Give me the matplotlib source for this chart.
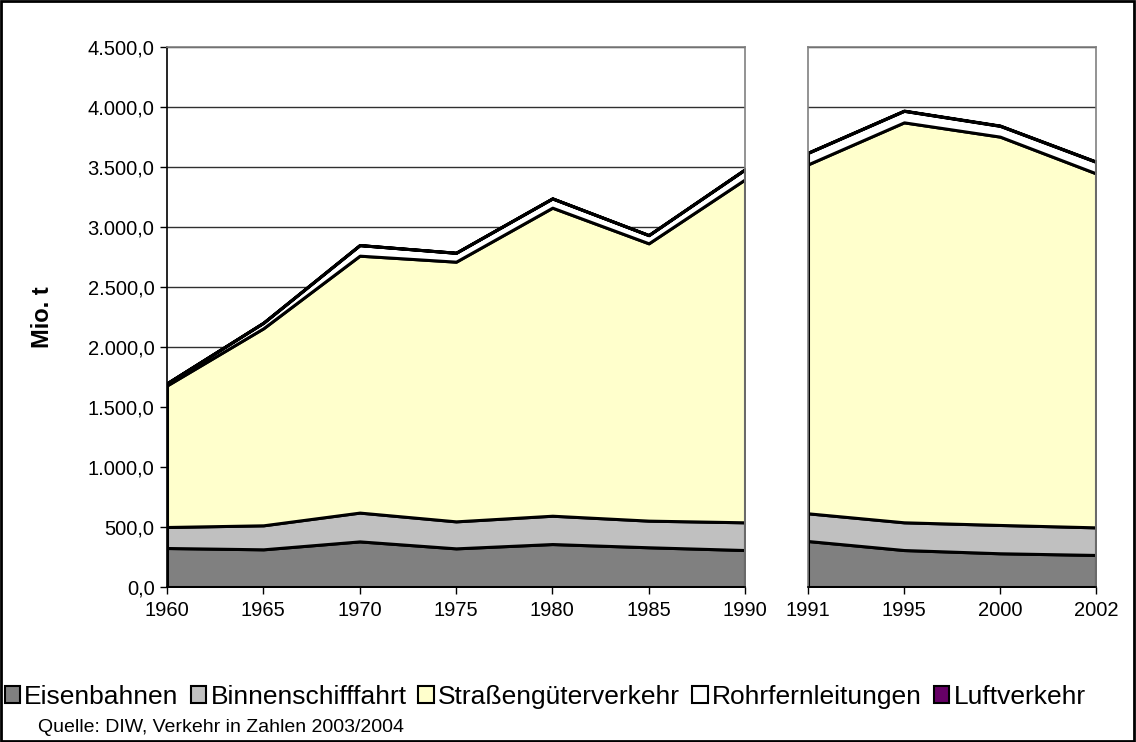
import matplotlib
matplotlib.use("Agg")
import matplotlib.pyplot as plt
from matplotlib.patches import Patch, Rectangle

plt.rcParams['font.family'] = ['Liberation Sans', 'DejaVu Sans']

years_west = [1960, 1965, 1970, 1975, 1980, 1985, 1990]
years_all = [1991, 1995, 2000, 2002]

series = ["Eisenbahnen", "Binnenschifffahrt", "Straßengüterverkehr", "Rohrfernleitungen", "Luftverkehr"]
colors = ["#808080", "#C0C0C0", "#FFFFCC", "#FFFFFF", "#660066"]

eisen_w = [325, 314, 380, 322, 358, 331, 308]
binnen_w = [175, 200, 240, 225, 236, 222, 231]
strasse_w = [1180, 1642, 2141, 2164, 2567, 2311, 2858]
rohr_w = [18, 46, 88, 74, 77, 68, 83]
luft_w = [0.1, 0.2, 0.4, 0.5, 0.7, 0.9, 1.5]

eisen_a = [383, 308, 281, 267]
binnen_a = [231, 231, 236, 230]
strasse_a = [2908, 3333, 3236, 2950]
rohr_a = [96, 96, 90, 96]
luft_a = [1.8, 2.0, 2.4, 2.3]

fig = plt.figure(figsize=(11.36, 7.42), dpi=100)
W, H = 1136, 742

def ax_rect(x0, y0, x1, y1):
    return [x0 / W, 1 - y1 / H, (x1 - x0) / W, (y1 - y0) / H]

ax1 = fig.add_axes(ax_rect(167, 47, 745, 587))
ax2 = fig.add_axes(ax_rect(808, 47, 1096, 587))

def draw(ax, xs, data, labels):
    ax.set_axisbelow(True)
    ax.yaxis.grid(True, color="#303030", linewidth=1.0)
    ax.stackplot(xs, *data, colors=colors, edgecolor="black", linewidth=2.2)
    ax.set_ylim(0, 4500)
    ax.set_yticks(range(0, 4501, 500))
    ax.set_xlim(xs[0], xs[-1])
    ax.set_xticks(xs)
    ax.set_xticklabels(labels, fontsize=14.5)
    for s in ax.spines.values():
        s.set_color("#808080")
        s.set_linewidth(1.2)
    ax.spines['bottom'].set_color("black")
    ax.tick_params(axis='x', direction='out', length=5, width=1, pad=5)

draw(ax1, list(range(len(years_west))), [eisen_w, binnen_w, strasse_w, rohr_w, luft_w],
     [str(y) for y in years_west])
draw(ax2, list(range(len(years_all))), [eisen_a, binnen_a, strasse_a, rohr_a, luft_a],
     [str(y) for y in years_all])

ax1.set_yticklabels([f"{v:,.1f}".replace(",", "X").replace(".", ",").replace("X", ".") for v in range(0, 4501, 500)],
                    fontsize=14.5)
ax1.tick_params(axis='y', direction='out', length=5, width=1, pad=4)
ax1.spines['left'].set_color("black")
ax1.set_ylabel("Mio. t", fontsize=17, fontweight='bold')
ax1.yaxis.set_label_coords((54 - 167) / 578, 0.5)
ax2.tick_params(axis='y', left=False, labelleft=False)

handles = [Patch(facecolor=c, edgecolor="black", linewidth=1.5, label=l) for c, l in zip(colors, series)]
fig.legend(handles=handles, loc='center left', bbox_to_anchor=(0.004, 1 - 697 / H), ncol=5,
           frameon=False, fontsize=19, handlelength=0.6, handleheight=0.6, handletextpad=0.15,
           columnspacing=0.45, borderaxespad=0, borderpad=0)

fig.text(38 / W, 1 - 727 / H, "Quelle: DIW, Verkehr in Zahlen 2003/2004", fontsize=14, va='center', ha='left')

fig.patches.append(Rectangle((0.001, 0.001), 0.997, 0.997, transform=fig.transFigure,
                             fill=False, edgecolor="black", linewidth=2))

fig.savefig("out.png", dpi=100)
